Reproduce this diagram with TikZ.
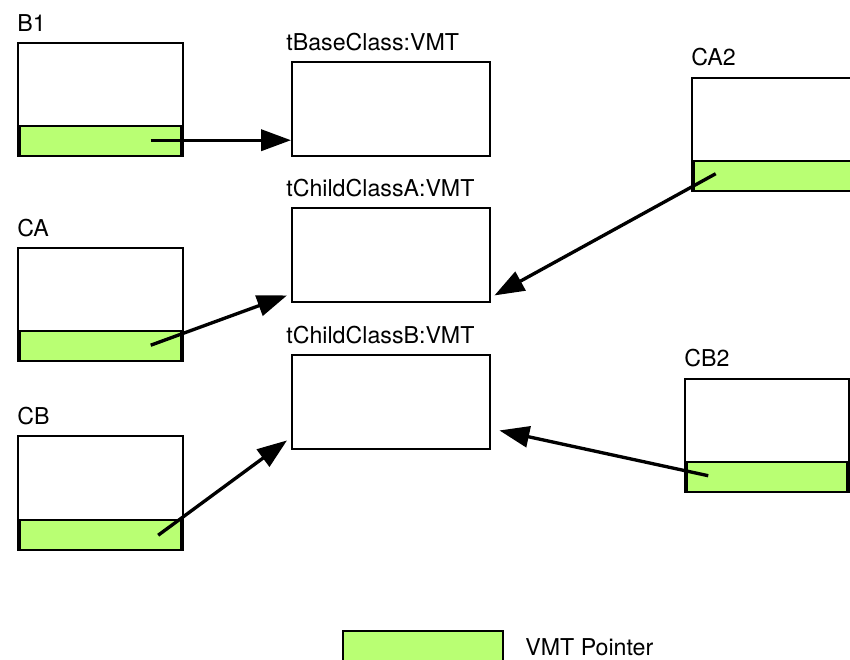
\documentclass[tikz,border=0pt]{standalone}
\usepackage{fontspec}
\setmainfont{TeX Gyre Heros}
\usetikzlibrary{arrows.meta}
\definecolor{ptrgreen}{RGB}{185,255,115}
\begin{document}
\begin{tikzpicture}[
  x=0.02cm,y=-0.02cm,
  objbox/.style={draw,line width=1.4pt,inner sep=0,anchor=north west,minimum width=3.3cm,minimum height=2.26cm},
  vmtbox/.style={draw,line width=1.4pt,inner sep=0,anchor=north west,minimum width=3.96cm,minimum height=1.88cm},
  ptrbar/.style={draw,line width=1.4pt,fill=ptrgreen,inner sep=0,anchor=south,minimum width=3.22cm,minimum height=0.6cm},
  lbl/.style={font=\fontsize{13.2}{15}\selectfont,inner sep=0,anchor=base west},
  ptr/.style={draw,line width=1.9pt,-{Triangle[length=17pt,width=12pt]}},
]
\useasboundingbox (0,0) rectangle (850,660);
% vmt tables
\node[vmtbox] (vmtbase) at (291,61) {};
\node[vmtbox] (vmtA) at (291,207) {};
\node[vmtbox] (vmtB) at (291,354) {};
\node[lbl] (vmtbaselbl) at ([xshift=-0.1cm,yshift=0.22cm]vmtbase.north west) {tBaseClass:VMT};
\node[lbl] (vmtAlbl) at ([xshift=-0.1cm,yshift=0.22cm]vmtA.north west) {tChildClassA:VMT};
\node[lbl] (vmtBlbl) at ([xshift=-0.1cm,yshift=0.22cm]vmtB.north west) {tChildClassB:VMT};
% objects
\node[objbox] (b1) at (17,42) {};
\node[objbox] (ca) at (17,247) {};
\node[objbox,minimum height=2.28cm] (cb) at (17,435) {};
\node[objbox] (ca2) at (691,77) {};
\node[objbox,minimum width=3.28cm] (cb2) at (684,378) {};
\foreach \o in {b1,ca,cb,ca2,cb2}{
  \node[ptrbar] (\o p) at (\o.south) {};
}
\node[lbl] (b1lbl) at ([yshift=0.22cm]b1.north west) {B1};
\node[lbl] (calbl) at ([yshift=0.22cm]ca.north west) {CA};
\node[lbl] (cblbl) at ([yshift=0.22cm]cb.north west) {CB};
\node[lbl] (ca2lbl) at ([yshift=0.24cm]ca2.north west) {CA2};
\node[lbl] (cb2lbl) at ([yshift=0.24cm]cb2.north west) {CB2};
% pointers
\coordinate (b1s) at ([xshift=1.0cm,yshift=0.02cm]b1p.center);
\coordinate (cas) at ([xshift=1.0cm,yshift=0.02cm]cap.center);
\coordinate (cbs) at ([xshift=1.15cm,yshift=0.0cm]cbp.center);
\coordinate (ca2s) at ([xshift=-1.18cm,yshift=0.05cm]ca2p.center);
\coordinate (cb2s) at ([xshift=-1.18cm,yshift=0.03cm]cb2p.center);
\draw[ptr] (b1s) -- (b1s -| vmtbase.west);
\draw[ptr] (cas) -- ([shift={(-0.08cm,0.16cm)}]vmtA.south west);
\draw[ptr] (cbs) -- ([shift={(-0.08cm,0.2cm)}]vmtB.south west);
\draw[ptr] (ca2s) -- ([shift={(0.06cm,0.16cm)}]vmtA.south east);
\draw[ptr] (cb2s) -- ([shift={(0.16cm,0.4cm)}]vmtB.south east);
% legend
\node[ptrbar,anchor=north west,minimum width=3.2cm] (legbar) at (342,630) {};
\node[lbl,anchor=west] (leglbl) at (525,647) {VMT Pointer};
\end{tikzpicture}
\end{document}
